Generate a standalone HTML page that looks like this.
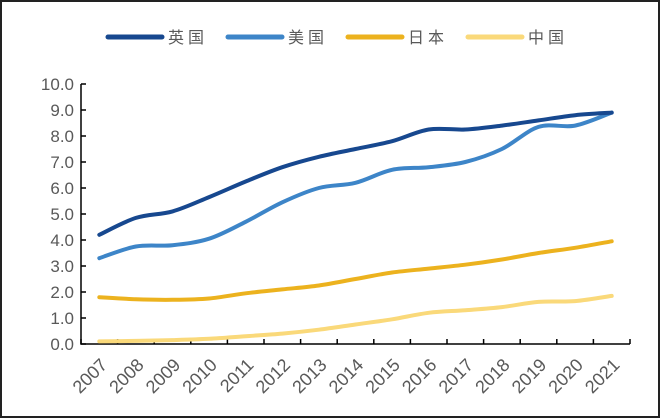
<!DOCTYPE html>
<html><head><meta charset="utf-8"><style>
body{margin:0;background:#fff}
svg{display:block}
text{font-family:"Liberation Sans","Noto Sans CJK SC",sans-serif;fill:#595959}
</style></head><body>
<svg id="s" width="660" height="418" xmlns="http://www.w3.org/2000/svg">
<rect x="1" y="1" width="658" height="416" fill="#fff" stroke="#222" stroke-width="2"/>
<g stroke-width="5" stroke-linecap="round">
<line x1="108" y1="37" x2="162" y2="37" stroke="#17488f"/>
<line x1="228" y1="37" x2="282" y2="37" stroke="#3d85c8"/>
<line x1="348" y1="37" x2="402" y2="37" stroke="#ecb21e"/>
<line x1="468" y1="37" x2="522" y2="37" stroke="#fad97a"/>
</g>
<g font-size="16" style="letter-spacing:4px">
<text x="168" y="43">英国</text><text x="288" y="43">美国</text>
<text x="408" y="43">日本</text><text x="528" y="43">中国</text>
</g>
<g id="ax" stroke="#000" stroke-width="1.5" fill="none"></g>
<g id="lbl" font-size="17"></g>
<g id="xl" font-size="18"></g>
<g id="ser" fill="none" stroke-width="4" stroke-linecap="round"></g>
</svg>
<script>
var ax=document.getElementById('ax'),lbl=document.getElementById('lbl'),xl=document.getElementById('xl'),ser=document.getElementById('ser');
var NS='http://www.w3.org/2000/svg';
function el(p,t,a,txt){var e=document.createElementNS(NS,t);for(var k in a)e.setAttribute(k,a[k]);if(txt)e.textContent=txt;p.appendChild(e);return e;}
var X0=81,X1=630,Y0=344,U=26,W=(X1-X0)/15;
el(ax,'path',{d:'M'+X0+' '+(Y0-10*U)+' V'+Y0+' H'+X1});
for(var i=0;i<=10;i++){var y=Y0-i*U;el(ax,'line',{x1:X0,y1:y,x2:X0+5,y2:y});
el(lbl,'text',{x:74,y:y+6,'text-anchor':'end'},i.toFixed(1));}
for(var i=0;i<=15;i++){var x=X0+i*W;el(ax,'line',{x1:x,y1:Y0,x2:x,y2:Y0-5});}
for(var i=0;i<15;i++){var cx=X0+W*(i+0.5)+9,cy=Y0+22;el(xl,'text',{x:cx,y:cy,'text-anchor':'end',transform:'rotate(-45 '+cx+' '+cy+')'},String(2007+i));}
var D=[['#17488f',[4.2,4.85,5.1,5.65,6.25,6.8,7.2,7.5,7.8,8.25,8.25,8.4,8.6,8.8,8.9]],
['#3d85c8',[3.3,3.75,3.8,4.05,4.7,5.45,6.0,6.2,6.7,6.8,7.0,7.5,8.35,8.4,8.9]],
['#ecb21e',[1.8,1.72,1.7,1.75,1.95,2.1,2.25,2.5,2.75,2.9,3.05,3.25,3.5,3.7,3.95]],
['#fad97a',[0.1,0.12,0.15,0.2,0.3,0.4,0.55,0.75,0.95,1.2,1.3,1.42,1.62,1.65,1.85]]];
for(var j=3;j>=0;j--){var v=D[j][1],P=v.map(function(a,i){return [X0+W*(i+0.5),Y0-a*U];});
var d='M'+P[0][0]+' '+P[0][1];
for(var i=0;i<P.length-1;i++){var p0=P[i-1]||P[i],p1=P[i],p2=P[i+1],p3=P[i+2]||P[i+1];
d+=' C'+(p1[0]+(p2[0]-p0[0])/6)+' '+(p1[1]+(p2[1]-p0[1])/6)+' '+(p2[0]-(p3[0]-p1[0])/6)+' '+(p2[1]-(p3[1]-p1[1])/6)+' '+p2[0]+' '+p2[1];}
el(ser,'path',{d:d,stroke:D[j][0]});}
</script>
</body></html>
